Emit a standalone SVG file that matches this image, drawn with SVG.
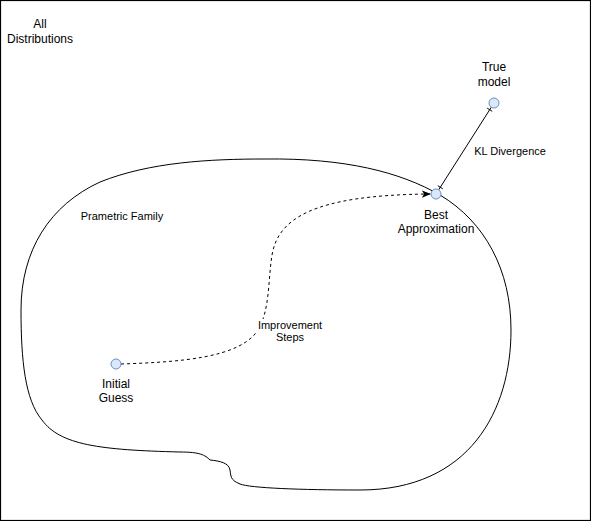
<svg xmlns="http://www.w3.org/2000/svg" width="591" height="521" viewBox="0 0 591 521">
  <style>
    text { font-family: "Liberation Sans", Arial, sans-serif; fill: #000; text-anchor: middle; }
    .t12 { font-size: 12px; }
    .t11 { font-size: 11px; }
    .pt { fill: #dae8fc; stroke: #6c8ebf; stroke-width: 1; }
    .edge { fill: none; stroke: #000; stroke-width: 1; }
  </style>
  <defs>
    <marker id="arrow" viewBox="0 0 10 10" refX="9" refY="5" markerWidth="9" markerHeight="9" markerUnits="userSpaceOnUse" orient="auto">
      <path d="M0,1 L10,5 L0,9 L2.5,5 Z" fill="#000"/>
    </marker>
  </defs>
  <rect x="0" y="0" width="591" height="521" fill="#fff"/>
  <g id="all-distributions">
    <rect x="0.5" y="0.5" width="590" height="520" fill="none" stroke="#000" stroke-width="1.2"/>
    <text class="t12" x="40" y="28">All</text>
    <text class="t12" x="40" y="43">Distributions</text>
  </g>
  <g id="parametric-family">
    <path class="edge" d="M 265 159 C 345 158, 400 172, 440 195 C 485 222, 511 270, 511 330 C 511 410, 470 490, 360 490 C 300 490, 250 488, 240 484 C 230 480, 231 476, 230 470 C 229 463, 220 461, 210 460 C 205 455, 200 452, 180 452 C 100 450, 60 445, 42 420 C 25 400, 21 360, 21 310 C 21 250, 50 205, 100 182 C 150 162, 210 159, 265 159 Z"/>
    <text class="t11" x="122" y="220">Prametric Family</text>
  </g>
  <g id="connectors">
    <path class="edge" stroke-dasharray="3 3" d="M 121 364 C 180 362, 240 358, 258 330 C 270 310, 268 280, 272 255 C 278 220, 310 195, 430 194" marker-end="url(#arrow)"/>
    <rect x="257" y="319" width="68" height="26" fill="#fff"/>
    <text class="t11" x="290" y="329">Improvement</text>
    <text class="t11" x="290" y="341">Steps</text>
    <line class="edge" x1="491.3" y1="107.2" x2="438.7" y2="189.8"/>
    <line class="edge" x1="487.2" y1="108.1" x2="492.2" y2="111.3"/>
    <line class="edge" x1="437.8" y1="185.7" x2="442.8" y2="188.9"/>
    <text class="t11" x="510" y="155">KL Divergence</text>
  </g>
  <g id="true-model">
    <circle class="pt" cx="494" cy="103" r="5"/>
    <text class="t12" x="494" y="71">True</text>
    <text class="t12" x="494" y="86">model</text>
  </g>
  <g id="best-approximation">
    <circle class="pt" cx="436" cy="194" r="5"/>
    <text class="t12" x="436" y="219">Best</text>
    <text class="t12" x="436" y="233">Approximation</text>
  </g>
  <g id="initial-guess">
    <circle class="pt" cx="116" cy="364" r="5"/>
    <text class="t12" x="116" y="388">Initial</text>
    <text class="t12" x="116" y="402">Guess</text>
  </g>
</svg>
